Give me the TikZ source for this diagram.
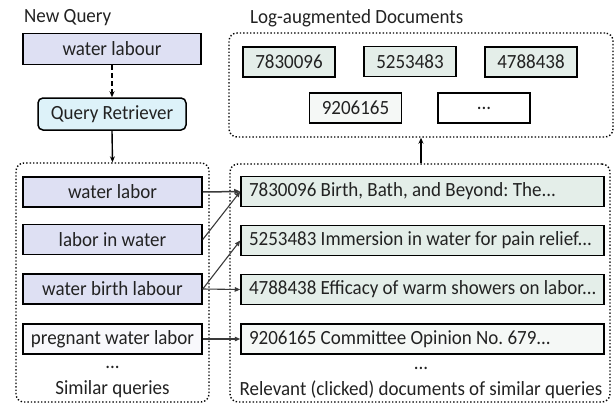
\documentclass[tikz,border=0pt]{standalone}
\usepackage{fontspec}
\usepackage{graphicx}
\setmainfont{Carlito}
\frenchspacing
\usetikzlibrary{arrows.meta}
\definecolor{lav}{HTML}{DEE0F3}
\definecolor{lavlight}{HTML}{F8F8FC}
\definecolor{cyanq}{HTML}{DDF2F9}
\definecolor{grn}{HTML}{E4EEE9}
\definecolor{grnlight}{HTML}{F5F8F6}
\definecolor{txt}{HTML}{222222}
\definecolor{arrgray}{HTML}{3A3A3A}
\newcommand{\vst}[1]{\scalebox{1}[1.06]{#1}}
\newcommand{\dtext}[1]{\makebox[347pt][l]{\vst{#1}}}
\begin{document}
\begin{tikzpicture}[x=1pt,y=-1pt,
  font=\fontsize{19}{22}\selectfont, text=txt,
  box/.style={draw=black, line width=1.5pt, minimum height=30pt, inner sep=0pt},
  qbox/.style={box, minimum width=179pt, fill=lav},
  dbox/.style={box, minimum width=363pt, fill=grn},
  sbox/.style={box, minimum width=92pt, fill=grn},
  group/.style={draw=black, line width=1.4pt, dotted, rounded corners=8pt, inner sep=0pt},
  arr/.style={-{Stealth[length=6pt,width=5pt]}, line width=1.4pt, draw=black},
  thk/.style={-{Triangle[length=6pt,width=5pt]}, line width=1.5pt, draw=arrgray},
  thin/.style={-{Triangle[length=5.5pt,width=4.5pt]}, line width=1.1pt, draw=arrgray}
]
\useasboundingbox (0,0) rectangle (615,404);

% labels
\node[anchor=west, inner sep=0pt] (nq) at (24,18) {\vst{New Query}};
\node[anchor=west, inner sep=0pt] (lad) at (250,18) {\vst{Log-augmented Documents}};

% new query
\node[box, minimum width=178pt, minimum height=31pt, fill=lav] (wl) at (112,49) {\vst{water labour}};
\node[box, minimum width=148pt, minimum height=32pt, fill=cyanq, rounded corners=5pt] (qr) at (112,114) {\vst{Query Retriever}};

% similar queries group
\node[group, minimum width=193pt, minimum height=239pt] (sim) at (112.5,282.5) {};
\node[qbox] (q1) at (112.5,192) {\vst{water labor}};
\node[qbox] (q2) at (112.5,239.5) {\vst{labor in water}};
\node[qbox] (q3) at (112.5,289) {\vst{water birth labour}};
\node[qbox, fill=lavlight] (q4) at (112.5,339) {\vst{pregnant water labor}};
\node[inner sep=0pt] (qdots) at (112.5,367) {\vst{...}};
\node[inner sep=0pt] (simlab) at (112.5,389) {\vst{Similar queries}};

% relevant docs group
\node[group, minimum width=380pt, minimum height=238pt] (rel) at (420,283) {};
\node[dbox] (d1) at (422.5,191.5) {\dtext{7830096 Birth, Bath, and Beyond: The...}};
\node[dbox] (d2) at (422.5,240.5) {\dtext{5253483 Immersion in water for pain relief...}};
\node[dbox] (d3) at (422.5,289.5) {\dtext{4788438 Efficacy of warm showers on labor...}};
\node[dbox, fill=grnlight] (d4) at (422.5,339) {\dtext{9206165 Committee Opinion No. 679...}};
\node[inner sep=0pt] (ddots) at (421,368) {\vst{...}};
\node[inner sep=0pt] (rellab) at (421,390) {\vst{Relevant (clicked) documents of similar queries}};

% log-augmented docs group
\node[group, minimum width=384pt, minimum height=104pt] (log) at (421,85) {};
\node[sbox] (s1) at (289,62) {\vst{7830096}};
\node[sbox] (s2) at (410,61.5) {\vst{5253483}};
\node[sbox] (s3) at (531,62) {\vst{4788438}};
\node[sbox, fill=grnlight] (s4) at (355.5,108) {\vst{9206165}};
\node[sbox, fill=white] (s5) at (484,108) {\vst{...}};

% connectors
\draw[arr, dashed, dash pattern=on 5pt off 3pt] (wl.south) -- (qr.north);
\draw[arr] (qr.south) -- (sim.north);
\draw[arr] (rel.north -| log.south) -- (log.south);
\draw[thk] (q1.east) -- (d1.west);
\draw[thin] (q2.east) -- (d1.west);
\draw[thin] (q3.east) -- (d2.west);
\draw[thin] (q3.east) -- (d3.west);
\draw[thin] (q4.east) -- (d4.west);
\end{tikzpicture}
\end{document}
